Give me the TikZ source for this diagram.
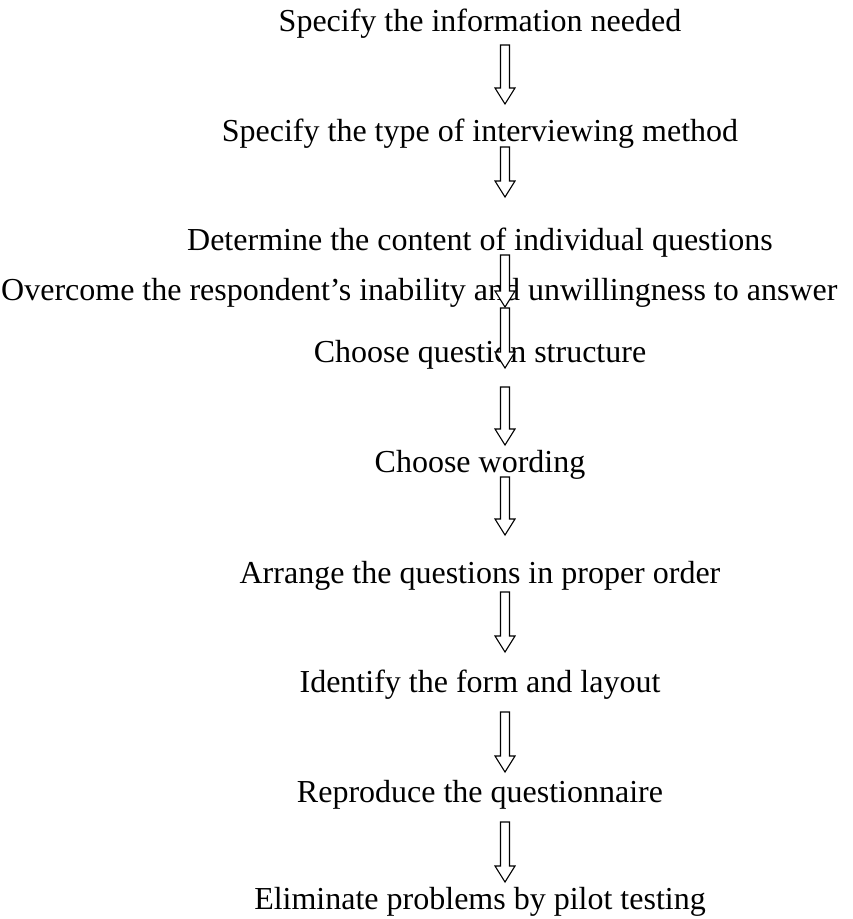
\documentclass[tikz,border=0pt]{standalone}
\usepackage{fontspec}
\setmainfont{Liberation Serif}
\usetikzlibrary{calc}

\tikzset{
  steptext/.style={font=\fontsize{32}{38}\selectfont, inner sep=0pt, anchor=base},
  flowarrow/.style={draw=black, fill=white, line width=1.1pt, line join=miter}
}

% hollow block arrow from coordinate #1 (top of shaft) to coordinate #2 (tip)
\newcommand{\blockarrow}[2]{%
  \draw[flowarrow]
    ($(#1)+(-4.5,0)$) -- ($(#2)+(-4.5,-16)$) -- ($(#2)+(-10,-16)$) -- (#2)
    -- ($(#2)+(10,-16)$) -- ($(#2)+(4.5,-16)$) -- ($(#1)+(4.5,0)$) -- cycle;}

\begin{document}
\begin{tikzpicture}[x=1pt, y=-1pt]
  \useasboundingbox (0,0) rectangle (853,919);

  % the steps
  \node[steptext] (s1)  at (480,31)  {Specify the information needed};
  \node[steptext] (s2)  at (480,141) {Specify the type of interviewing method};
  \node[steptext] (s3)  at (480,250) {Determine the content of individual questions};
  \node[steptext, anchor=base west] (s4) at (1,300)
    {Overcome the respondent’s inability and unwillingness to answer};
  \node[steptext] (s5)  at (480,362) {Choose question structure};
  \node[steptext] (s6)  at (480,472) {Choose wording};
  \node[steptext] (s7)  at (480,583) {Arrange the questions in proper order};
  \node[steptext] (s8)  at (480,692) {Identify the form and layout};
  \node[steptext] (s9)  at (480,802) {Reproduce the questionnaire};
  \node[steptext] (s10) at (480,909) {Eliminate problems by pilot testing};

  % arrow ends
  \coordinate (a1s) at (505,45);  \coordinate (a1e) at (505,104);
  \coordinate (a2s) at (505,147); \coordinate (a2e) at (505,197);
  \coordinate (a3s) at (505,255); \coordinate (a3e) at (505,307);
  \coordinate (a4s) at (505,308); \coordinate (a4e) at (505,368);
  \coordinate (a5s) at (505,387); \coordinate (a5e) at (505,445);
  \coordinate (a6s) at (505,477); \coordinate (a6e) at (505,535);
  \coordinate (a7s) at (505,592); \coordinate (a7e) at (505,652);
  \coordinate (a8s) at (505,712); \coordinate (a8e) at (505,772);
  \coordinate (a9s) at (505,822); \coordinate (a9e) at (505,882);

  \foreach \i in {1,...,9} {\blockarrow{a\i s}{a\i e}}
\end{tikzpicture}
\end{document}
